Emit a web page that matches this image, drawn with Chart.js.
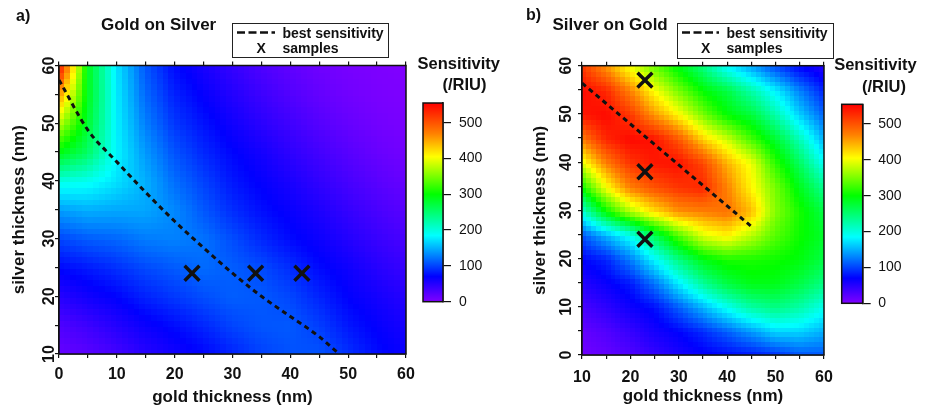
<!DOCTYPE html>
<html lang="en">
<head>
<meta charset="UTF-8">
<title>Sensitivity maps</title>
<script src="https://cdn.jsdelivr.net/npm/chart.js@4.4.0/dist/chart.umd.min.js"></script>
<style>
  * { margin: 0; padding: 0; box-sizing: border-box; }
  body {
    width: 925px; height: 409px; background: #fff; position: relative; overflow: hidden;
    font-family: 'Liberation Sans', Arial, Helvetica, sans-serif; color: #111;
  }
  canvas { position: absolute; }
  .txt { position: absolute; font-weight: bold; white-space: nowrap; line-height: 1; }
  .legend { position: absolute; border: 1.5px solid #222; }
  svg { position: absolute; }
</style>
</head>
<body>
  <canvas id="mapA" width="470" height="409" style="left:0;top:0"></canvas>
  <canvas id="barA" width="100" height="225" style="left:405px;top:90px"></canvas>
  <canvas id="mapB" width="455" height="409" style="left:470px;top:0"></canvas>
  <canvas id="barB" width="100" height="225" style="left:825px;top:90px"></canvas>

  <!-- panel a labels -->
  <div class="txt" style="left:16px;top:8px;font-size:16px">a)</div>
  <div class="txt" style="left:101px;top:16px;font-size:17px">Gold on Silver</div>
  <div class="legend" style="left:232px;top:22.5px;width:157px;height:35px"></div>
  <svg style="left:237px;top:30px" width="40" height="5"><line x1="0" y1="2.5" x2="38" y2="2.5" stroke="#111" stroke-width="2.6" stroke-dasharray="8 3.5"/></svg>
  <div class="txt" style="left:282.5px;top:25.5px;font-size:14px">best sensitivity</div>
  <div class="txt" style="left:256.5px;top:41px;font-size:14px">X</div>
  <div class="txt" style="left:282.5px;top:41px;font-size:14px">samples</div>
  <div class="txt" style="left:417.5px;top:54.5px;font-size:16.5px">Sensitivity</div>
  <div class="txt" style="left:442.5px;top:76.3px;font-size:16.5px">(/RIU)</div>

  <!-- panel b labels -->
  <div class="txt" style="left:526px;top:6.5px;font-size:16px">b)</div>
  <div class="txt" style="left:552.5px;top:16px;font-size:17px">Silver on Gold</div>
  <div class="legend" style="left:676.5px;top:22.5px;width:157px;height:36px"></div>
  <svg style="left:681.5px;top:30px" width="40" height="5"><line x1="0" y1="2.5" x2="37" y2="2.5" stroke="#111" stroke-width="2.6" stroke-dasharray="8 3.5"/></svg>
  <div class="txt" style="left:726.5px;top:25.5px;font-size:14px">best sensitivity</div>
  <div class="txt" style="left:701px;top:41px;font-size:14px">X</div>
  <div class="txt" style="left:726.5px;top:41px;font-size:14px">samples</div>
  <div class="txt" style="left:834.2px;top:56px;font-size:16.5px">Sensitivity</div>
  <div class="txt" style="left:862px;top:78px;font-size:16.5px">(/RIU)</div>

<script>
// ---- panel a: gold on silver (sensitivity /RIU, read every 5 nm) ----
const goldA = [0, 5, 10, 15, 20, 25, 30, 35, 40, 45, 50, 55, 60];
const silverA = [60, 55, 50, 45, 40, 35, 30, 25, 20, 15, 10];
const sensA = [
  [550, 290, 175, 110,  75,  58,  42,  28,  18,  10,   5,   2,   0],
  [460, 290, 178, 118,  85,  68,  52,  38,  26,  16,   9,   4,   2],
  [375, 280, 180, 128,  95,  78,  62,  48,  36,  24,  15,   8,   4],
  [290, 255, 182, 140, 108,  88,  72,  60,  46,  34,  23,  14,   8],
  [195, 190, 172, 150, 120, 100,  80,  68,  57,  44,  32,  22,  14],
  [140, 148, 145, 145, 132, 110,  90,  76,  66,  55,  42,  31,  22],
  [100, 110, 115, 125, 128, 122, 105,  88,  74,  64,  52,  40,  31],
  [ 72,  80,  90, 102, 110, 118, 112, 104,  90,  74,  63,  50,  40],
  [ 48,  60,  70,  84,  94, 104, 112, 110, 102,  86,  70,  60,  50],
  [ 26,  36,  50,  64,  74,  86, 100, 108, 110,  98,  80,  68,  58],
  [ 14,  20,  32,  48,  60,  70,  84,  98, 106, 108,  92,  75,  65]
];
const bestA_gold = [0, 5, 10, 15, 20, 25, 30, 35, 40, 45, 48];
const bestA_silver = [57.5, 48.8, 43.3, 38, 33, 28.4, 24, 20, 16.5, 13, 10.4];
const samplesA_gold = [23, 34, 42];
const samplesA_silver = [24, 24, 24];

// ---- panel b: silver on gold ----
const goldB = [10, 15, 20, 25, 30, 35, 40, 45, 50, 55, 60];
const silverB = [60, 55, 50, 45, 40, 35, 30, 25, 20, 15, 10, 5, 0];
const sensB = [
  [520, 460, 400, 345, 295, 245, 185, 145, 105,  72,  52],
  [550, 530, 470, 405, 350, 300, 270, 225, 180, 130,  85],
  [540, 550, 520, 460, 410, 350, 300, 275, 225, 165, 115],
  [470, 530, 550, 545, 500, 430, 385, 330, 280, 220, 150],
  [390, 470, 520, 540, 545, 510, 445, 400, 320, 260, 190],
  [300, 400, 470, 500, 520, 530, 470, 410, 350, 290, 235],
  [200, 300, 370, 420, 460, 470, 480, 440, 355, 310, 268],
  [105, 150, 190, 260, 330, 390, 410, 375, 335, 305, 280],
  [ 70,  85, 125, 180, 240, 290, 310, 310, 305, 295, 268],
  [ 50,  65,  80, 120, 175, 230, 270, 290, 290, 270, 240],
  [ 30,  45,  62,  75, 110, 150, 190, 225, 240, 225, 192],
  [ 15,  25,  40,  58,  70,  88, 112, 138, 165, 165, 148],
  [  8,  15,  25,  40,  55,  65,  72,  78,  88, 105, 108]
];
const bestB_gold = [10, 45.3];
const bestB_silver = [56.4, 26.4];
const samplesB_gold = [23, 23, 23];
const samplesB_silver = [57, 38, 24];

// colour scale (rainbow, /RIU)
const cmapValues = [0, 70, 185, 300, 405, 470, 555];
const cmapColors = ['#8000ff', '#0000ff', '#00ffff', '#00ff00', '#ffff00', '#ff8000', '#ff0000'];
const barTicks = [0, 100, 200, 300, 400, 500];

Chart.defaults.font.family = "'Liberation Sans', Arial, Helvetica, sans-serif";
Chart.defaults.color = '#111';

function hexRgb(h) {
  return [parseInt(h.slice(1, 3), 16), parseInt(h.slice(3, 5), 16), parseInt(h.slice(5, 7), 16)];
}
const cmapRgb = cmapColors.map(hexRgb);

function colorFor(v) {
  const last = cmapValues.length - 1;
  const t = Math.max(cmapValues[0], Math.min(cmapValues[last], v));
  for (let i = 0; i < last; i++) {
    if (t <= cmapValues[i + 1]) {
      const f = (t - cmapValues[i]) / (cmapValues[i + 1] - cmapValues[i]);
      const a = cmapRgb[i], b = cmapRgb[i + 1];
      return 'rgb(' + Math.round(a[0] + (b[0] - a[0]) * f) + ',' +
        Math.round(a[1] + (b[1] - a[1]) * f) + ',' + Math.round(a[2] + (b[2] - a[2]) * f) + ')';
    }
  }
  return cmapColors[last];
}

// shade the map between the read grid values (xs ascending, ys descending)
function sampleGrid(grid, xs, ys, x, y) {
  let i = 0;
  while (i < xs.length - 2 && x > xs[i + 1]) i++;
  let j = 0;
  while (j < ys.length - 2 && y < ys[j + 1]) j++;
  const fx = (x - xs[i]) / (xs[i + 1] - xs[i]);
  const fy = (ys[j] - y) / (ys[j] - ys[j + 1]);
  const top = grid[j][i] + (grid[j][i + 1] - grid[j][i]) * fx;
  const bot = grid[j + 1][i] + (grid[j + 1][i + 1] - grid[j + 1][i]) * fx;
  return top + (bot - top) * fy;
}

function heatPlugin(grid, xs, ys) {
  return {
    id: 'heat',
    beforeDatasetsDraw(chart) {
      const { ctx, chartArea, scales: { x, y } } = chart;
      ctx.save();
      ctx.beginPath();
      ctx.rect(chartArea.left, chartArea.top, chartArea.width, chartArea.height);
      ctx.clip();
      for (let gx = x.min; gx < x.max; gx += 1) {
        for (let gy = y.min; gy < y.max; gy += 1) {
          ctx.fillStyle = colorFor(sampleGrid(grid, xs, ys, gx + 0.5, gy + 0.5));
          const l = Math.floor(x.getPixelForValue(gx)), r = Math.ceil(x.getPixelForValue(gx + 1));
          const t = Math.floor(y.getPixelForValue(gy + 1)), b = Math.ceil(y.getPixelForValue(gy));
          ctx.fillRect(l, t, r - l + 1, b - t + 1);
        }
      }
      ctx.restore();
    }
  };
}

const framePlugin = {
  id: 'frame',
  afterDraw(chart) {
    const { ctx, chartArea } = chart;
    ctx.save();
    ctx.strokeStyle = '#111';
    ctx.lineWidth = 1.5;
    ctx.strokeRect(chartArea.left, chartArea.top, chartArea.width, chartArea.height);
    ctx.restore();
  }
};

function zeroPad(s) { s.paddingLeft = 0; s.paddingRight = 0; s.paddingTop = 0; s.paddingBottom = 0; }
const every10 = v => (v % 10 === 0 ? String(v) : '');
const axisGrid = { drawOnChartArea: false, drawTicks: true, tickLength: 4, color: '#111', lineWidth: 1.2 };
const axisBorder = { display: true, color: '#111', width: 1.5 };
const tickFont = { size: 16, weight: 'bold' };
const titleFont = { size: 17, weight: 'bold' };

function points(xs, ys) { return xs.map((x, i) => ({ x: x, y: ys[i] })); }

function makeMap(id, cfg) {
  new Chart(document.getElementById(id), {
    type: 'scatter',
    data: {
      datasets: [
        {
          data: points(cfg.sampleX, cfg.sampleY),
          pointStyle: 'crossRot', pointRadius: 10.5, borderWidth: 3.5,
          borderColor: '#111', backgroundColor: '#111'
        },
        {
          data: points(cfg.bestX, cfg.bestY),
          showLine: true, borderColor: '#111', borderWidth: 3, borderDash: [5, 4],
          pointRadius: 0, cubicInterpolationMode: 'monotone', fill: false
        }
      ]
    },
    options: {
      responsive: false, animation: false, events: [],
      layout: { padding: cfg.pad },
      plugins: { legend: { display: false }, tooltip: { enabled: false } },
      scales: {
        x: {
          type: 'linear', position: 'bottom', min: cfg.xMin, max: 60,
          ticks: { stepSize: 5, autoSkip: false, maxRotation: 0, callback: every10, font: tickFont, color: '#111', padding: cfg.xTickPad },
          grid: axisGrid, border: axisBorder,
          title: { display: true, text: 'gold thickness (nm)', font: titleFont, color: '#111', padding: { top: 0, bottom: 1 } },
          afterFit(s) { s.height = cfg.xHeight; zeroPad(s); }
        },
        xTop: {
          type: 'linear', position: 'top', min: cfg.xMin, max: 60,
          ticks: { display: false, stepSize: 5, autoSkip: false },
          grid: axisGrid, border: axisBorder,
          afterFit(s) { s.height = 6; zeroPad(s); }
        },
        y: {
          type: 'linear', position: 'left', min: cfg.yMin, max: 60,
          ticks: { stepSize: 5, autoSkip: false, minRotation: 90, maxRotation: 90, crossAlign: 'center', callback: every10, font: tickFont, color: '#111', padding: cfg.yTickPad },
          grid: axisGrid, border: axisBorder,
          title: { display: true, text: 'silver thickness (nm)', font: titleFont, color: '#111', padding: { top: 1, bottom: 0 } },
          afterFit(s) { s.width = cfg.yWidth; zeroPad(s); }
        }
      }
    },
    plugins: [heatPlugin(cfg.grid, cfg.gx, cfg.gy), framePlugin]
  });
}

function barPlugin() {
  return {
    id: 'bar',
    beforeDatasetsDraw(chart) {
      const { ctx, chartArea, scales: { y } } = chart;
      const y0 = y.getPixelForValue(y.min), y1 = y.getPixelForValue(y.max);
      const g = ctx.createLinearGradient(0, y0, 0, y1);
      cmapValues.forEach((v, i) => g.addColorStop((v - y.min) / (y.max - y.min), cmapColors[i]));
      ctx.save();
      ctx.fillStyle = g;
      ctx.fillRect(chartArea.left, chartArea.top, chartArea.width, chartArea.height);
      ctx.restore();
    }
  };
}

function makeBar(id, pad, yWidth, labelPad) {
  new Chart(document.getElementById(id), {
    type: 'scatter',
    data: { datasets: [] },
    options: {
      responsive: false, animation: false, events: [],
      layout: { padding: pad },
      plugins: { legend: { display: false }, tooltip: { enabled: false } },
      scales: {
        x: { display: false, min: 0, max: 1 },
        y: {
          position: 'right', min: cmapValues[0], max: cmapValues[cmapValues.length - 1],
          afterBuildTicks(s) { s.ticks = barTicks.map(v => ({ value: v })); },
          ticks: { includeBounds: false, font: { size: 14 }, color: '#111', padding: labelPad },
          grid: { drawOnChartArea: false, drawTicks: true, tickLength: 8, color: '#111', lineWidth: 1.2 },
          border: axisBorder,
          afterFit(s) { s.width = yWidth; zeroPad(s); }
        }
      }
    },
    plugins: [barPlugin(), framePlugin]
  });
}

makeMap('mapA', {
  grid: sensA, gx: goldA, gy: silverA,
  bestX: bestA_gold, bestY: bestA_silver, sampleX: samplesA_gold, sampleY: samplesA_silver,
  xMin: 0, yMin: 10,
  pad: { left: 8, top: 59.5, right: 64, bottom: 0 },
  xHeight: 55, yWidth: 51, xTickPad: 7.4, yTickPad: -3
});
makeMap('mapB', {
  grid: sensB, gx: goldB, gy: silverB,
  bestX: bestB_gold, bestY: bestB_silver, sampleX: samplesB_gold, sampleY: samplesB_silver,
  xMin: 10, yMin: 0,
  pad: { left: 58.8, top: 59.7, right: 101, bottom: 1.8 },
  xHeight: 52.2, yWidth: 53.2, xTickPad: 8.9, yTickPad: 2.4
});
makeBar('barA', { left: 18, top: 13, right: 0, bottom: 13.3 }, 62, 8);
makeBar('barB', { left: 16.7, top: 14.3, right: 0, bottom: 11.7 }, 62.3, 7.6);
</script>
</body>
</html>
